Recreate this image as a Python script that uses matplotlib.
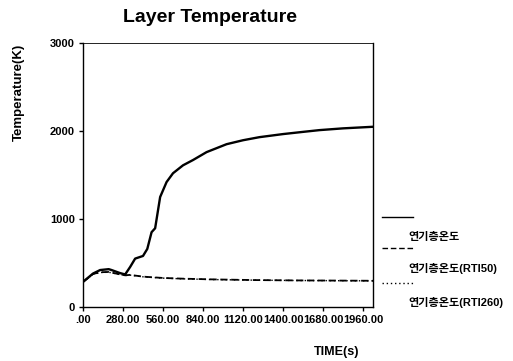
import numpy as np
import matplotlib.pyplot as plt
from matplotlib.lines import Line2D

plt.rcParams['font.family'] = ['Liberation Sans', 'Noto Sans CJK KR']
plt.rcParams['font.weight'] = 'bold'

# smoke layer temperature (solid)
t_main = [0, 70, 120, 180, 200, 260, 295, 330, 365, 420, 450, 480, 505, 540,
          585, 630, 700, 770, 865, 1005, 1120, 1235, 1400, 1540, 1655, 1820,
          1960, 2030]
T_main = [285, 380, 420, 430, 420, 385, 370, 455, 550, 580, 660, 850, 895, 1250,
          1420, 1520, 1610, 1670, 1760, 1850, 1895, 1930, 1965, 1990, 2010, 2030,
          2042, 2048]

# RTI50 (dashed)
t_rti50 = [0, 70, 120, 180, 260, 295, 330, 420, 560, 700, 900, 1200, 1500, 1800, 2030]
T_rti50 = [285, 375, 395, 398, 370, 360, 365, 345, 330, 322, 314, 306, 302, 300, 298]

# RTI260 (dotted)
t_rti260 = [0, 70, 120, 180, 260, 295, 330, 420, 560, 700, 900, 1200, 1500, 1800, 2030]
T_rti260 = [285, 372, 392, 395, 368, 358, 362, 343, 328, 320, 312, 305, 301, 299, 297]

xticks = [0, 280, 560, 840, 1120, 1400, 1680, 1960]
xtick_labels = ['.00', '280.00', '560.00', '840.00', '1120.00', '1400.00', '1680.00', '1960.00']
yticks = [0, 1000, 2000, 3000]
legend_labels = ['연기층온도', '연기층온도(RTI50)', '연기층온도(RTI260)']

fig = plt.figure(figsize=(5.13, 3.61), dpi=100)
ax = fig.add_axes([83/513, 1-307/361, 290/513, 264/361])

ax.plot(t_main, T_main, color='black', lw=1.7, ls='-')
ax.plot(t_rti50, T_rti50, color='black', lw=1.3, ls=(0, (4, 2)))
ax.plot(t_rti260, T_rti260, color='black', lw=1.0, ls=(0, (1, 2)))

ax.set_xlim(0, 2030)
ax.set_ylim(0, 3000)
ax.set_xticks(xticks)
ax.set_xticklabels(xtick_labels, fontsize=8, fontweight='bold')
ax.set_yticks(yticks)
ax.set_yticklabels([str(v) for v in yticks], fontsize=8, fontweight='bold')
ax.tick_params(direction='out', length=3, width=1, pad=3)
for s in ax.spines.values():
    s.set_linewidth(1.0)
ax.spines['top'].set_linewidth(0.6)

fig.text(210/513, 1-17/361, 'Layer Temperature', ha='center', va='center',
         fontsize=14, fontweight='bold')
fig.text(19/513, 1-92/361, 'Temperature(K)', ha='center', va='center',
         rotation=90, fontsize=9.5, fontweight='bold')
fig.text(337/513, 1-352/361, 'TIME(s)', ha='center', va='center',
         fontsize=9, fontweight='bold')

# legend drawn at the right
styles = ['-', (0, (4, 2)), (0, (1, 2))]
line_y = [217, 248, 283]
text_y = [237, 268, 302]
for st, ly, ty, lab in zip(styles, line_y, text_y, legend_labels):
    fig.add_artist(Line2D([382/513, 413/513], [1-ly/361, 1-ly/361],
                          color='black', lw=1.0, ls=st))
    fig.text(408/513, 1-ty/361, lab, ha='left', va='center',
             fontsize=8, fontweight='bold')

fig.savefig('out.png', dpi=100)
